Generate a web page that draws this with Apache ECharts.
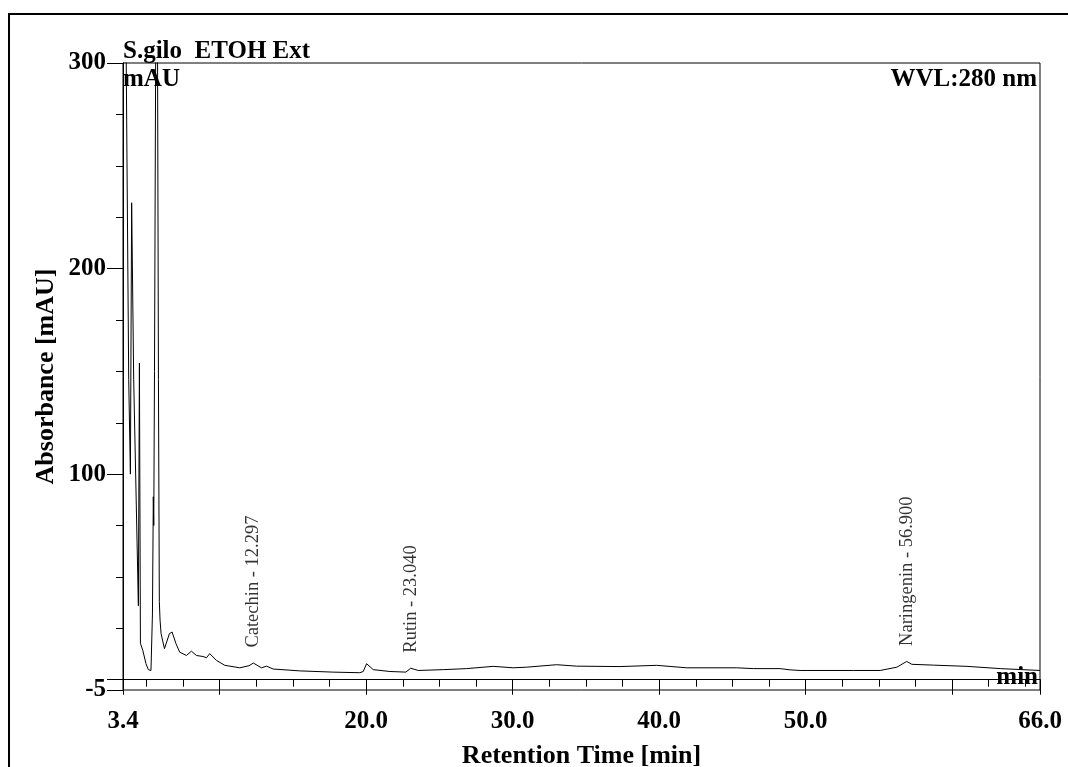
<!DOCTYPE html>
<html>
<head>
<meta charset="utf-8">
<title>S.gilo ETOH Ext</title>
<script src="https://cdn.jsdelivr.net/npm/echarts@6.0.0/dist/echarts.min.js"></script>
<style>
  html, body { margin: 0; padding: 0; background: #fff; }
  #main { width: 1068px; height: 767px; }
</style>
</head>
<body>
<div id="main"></div>
<script>
// 色谱数据 (min, mAU)
const retentionTime = [
  3.40, 3.48, 3.58, 3.62, 3.79, 3.905, 3.99, 4.13, 4.45, 4.52,
  4.59, 4.75, 4.97, 5.13, 5.31, 5.41, 5.47, 5.50, 5.55, 5.67,
  5.76, 5.82, 5.88, 5.93, 6.00, 6.23, 6.34, 6.57, 6.75, 7.02,
  7.27, 7.73, 8.07, 8.41, 8.86, 9.10, 9.32, 9.78, 10.35, 11.37,
  12.00, 12.30, 12.85, 13.20, 13.65, 15.47, 17.72, 19.57, 19.80, 20.03,
  20.48, 21.62, 22.71, 23.04, 23.55, 25.26, 26.86, 28.67, 30.04, 30.95,
  33.00, 34.37, 37.33, 39.83, 41.88, 45.30, 46.43, 48.26, 48.94, 49.62,
  53.26, 55.09, 56.23, 56.90, 57.25, 58.73, 61.01, 63.29, 66.00
]
const absorbance = [
  330, 370, 330, 300, 146, 100, 232, 146, 36, 154,
  17.7, 14.3, 7.8, 4.9, 4.5, 32, 89, 75, 150, 380,
  300, 146, 38, 29, 22.4, 15.1, 14.6, 22.4, 23.2, 17.5,
  13.4, 11.8, 13.9, 11.8, 11.3, 10.7, 12.7, 9.4, 7.0, 5.8,
  6.8, 8.1, 5.8, 6.6, 5.2, 4.3, 3.7, 3.4, 4.0, 7.8,
  4.9, 4.0, 3.7, 5.6, 4.5, 4.9, 5.4, 6.5, 5.8, 6.1,
  7.3, 6.6, 6.4, 7.0, 5.8, 5.8, 5.4, 5.4, 4.8, 4.5,
  4.5, 4.5, 6.1, 8.9, 7.5, 7.1, 6.5, 5.4, 4.5
]

// 峰标注
const peakNames = ['Catechin', 'Rutin', 'Naringenin']
const peakTimes = [12.297, 23.040, 56.900]
const peakHeights = [8.1, 5.6, 8.9]

// 刻度
const xLabelValues = [3.4, 20, 30, 40, 50, 66]
const xMajorTicks = [3.4, 10, 20, 30, 40, 50, 60, 66]
const xMinorTicks = [5, 7.5, 12.5, 15, 17.5, 22.5, 25, 27.5, 32.5, 35, 37.5, 42.5, 45, 47.5, 52.5, 55, 57.5, 62.5, 65]
const yLabelValues = [-5, 100, 200, 300]
const yMajorTicks = [-5, 0, 100, 200, 300]
const yMinorTicks = [25, 50, 75, 125, 150, 175, 225, 250, 275]

const serif = '"Liberation Serif", "Times New Roman", serif'
const boldFont = 'bold 25px ' + serif

const myChart = echarts.init(document.getElementById('main'))

const lineData = retentionTime.map((t, i) => [t, absorbance[i]])
const peakData = peakTimes.map((t, i) => ({
  value: [t, peakHeights[i]],
  name: peakNames[i] + ' - ' + t.toFixed(3)
}))

const axisLine = { show: true, lineStyle: { color: '#000', width: 1 } }

let option = {
  animation: false,
  backgroundColor: '#fff',
  grid: {
    left: 123,
    right: 28,
    top: 63,
    bottom: 77,
    show: true,
    borderColor: '#000',
    borderWidth: 1,
    containLabel: false,
    // 不让标签挤压绘图区
    outerBoundsMode: 'none'
  },
  xAxis: [
    {
      // 小刻度
      type: 'value',
      min: 3.4,
      max: 66,
      position: 'bottom',
      axisLine: axisLine,
      axisTick: { show: true, length: 7, customValues: xMinorTicks, lineStyle: { color: '#000' } },
      axisLabel: { show: false },
      splitLine: { show: false }
    },
    {
      // 大刻度 + 标签
      type: 'value',
      min: 3.4,
      max: 66,
      position: 'bottom',
      axisLine: axisLine,
      axisTick: { show: true, length: 15, customValues: xMajorTicks, lineStyle: { color: '#000' } },
      axisLabel: {
        show: true,
        customValues: xLabelValues,
        margin: 19,
        color: '#000',
        fontFamily: serif,
        fontWeight: 'bold',
        fontSize: 25,
        formatter: (v) => v.toFixed(1)
      },
      splitLine: { show: false },
      name: 'Retention Time [min]',
      nameLocation: 'middle',
      nameGap: 53,
      nameMoveOverlap: false,
      nameTextStyle: { color: '#000', fontFamily: serif, fontWeight: 'bold', fontSize: 26 }
    }
  ],
  yAxis: [
    {
      type: 'value',
      min: -5,
      max: 300,
      position: 'left',
      axisLine: axisLine,
      axisTick: { show: true, length: 7, customValues: yMinorTicks, lineStyle: { color: '#000' } },
      axisLabel: { show: false },
      splitLine: { show: false }
    },
    {
      type: 'value',
      min: -5,
      max: 300,
      position: 'left',
      axisLine: axisLine,
      axisTick: { show: true, length: 16, customValues: yMajorTicks, lineStyle: { color: '#000' } },
      axisLabel: {
        show: true,
        customValues: yLabelValues,
        margin: 17,
        color: '#000',
        fontFamily: serif,
        fontWeight: 'bold',
        fontSize: 25
      },
      splitLine: { show: false },
      name: 'Absorbance [mAU]',
      nameLocation: 'middle',
      nameGap: 64,
      nameMoveOverlap: false,
      nameTextStyle: { color: '#000', fontFamily: serif, fontWeight: 'bold', fontSize: 26 }
    }
  ],
  graphic: [
    // 外框
    {
      type: 'rect',
      shape: { x: 9, y: 14, width: 1080, height: 780 },
      style: { fill: null, stroke: '#000', lineWidth: 2 },
      silent: true
    },
    {
      type: 'text', x: 123, y: 52,
      style: { text: 'S.gilo  ETOH Ext', font: boldFont, fill: '#000', align: 'left', verticalAlign: 'middle' }
    },
    {
      type: 'text', x: 123, y: 80,
      style: { text: 'mAU', font: boldFont, fill: '#000', align: 'left', verticalAlign: 'middle' }
    },
    {
      type: 'text', x: 1037, y: 80,
      style: { text: 'WVL:280 nm', font: boldFont, fill: '#000', align: 'right', verticalAlign: 'middle' }
    },
    {
      type: 'text', x: 1038, y: 678,
      style: { text: 'min', font: boldFont, fill: '#000', align: 'right', verticalAlign: 'middle' }
    }
  ],
  series: [
    {
      type: 'line',
      xAxisIndex: 0,
      yAxisIndex: 0,
      data: lineData,
      showSymbol: false,
      clip: true,
      lineStyle: { color: '#000', width: 1 },
      silent: true
    },
    {
      type: 'scatter',
      xAxisIndex: 0,
      yAxisIndex: 0,
      data: peakData,
      symbolSize: 1,
      itemStyle: { color: 'rgba(0,0,0,0)' },
      label: {
        show: true,
        position: 'top',
        distance: 15,
        rotate: 90,
        align: 'left',
        verticalAlign: 'middle',
        color: '#000',
        fontFamily: serif,
        fontSize: 18.5,
        formatter: (p) => p.name
      },
      silent: true
    }
  ]
}

myChart.setOption(option)
window.addEventListener('resize', () => {
  myChart.resize()
})
</script>
</body>
</html>
